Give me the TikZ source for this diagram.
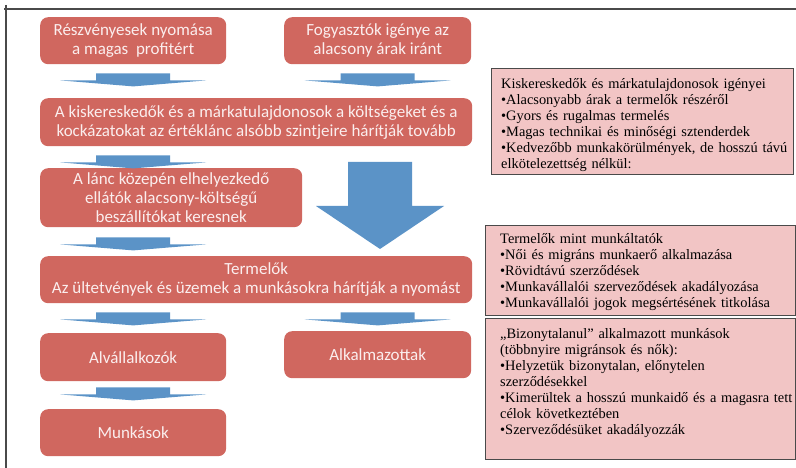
\documentclass[tikz,border=0pt]{standalone}
\usepackage{fontspec}
\setmainfont{Liberation Serif}
\setsansfont{Carlito}
\definecolor{redfill}{HTML}{D0675F}
\definecolor{redtext}{HTML}{FBEEEE}
\definecolor{arrowblue}{HTML}{5B93C7}
\definecolor{pinkfill}{HTML}{F2C5C5}
\definecolor{frameg}{HTML}{4A4A4A}
\tikzset{
  redbox/.style={fill=redfill, rounded corners=8pt, anchor=north west, inner sep=2pt,
    align=center, text=redtext, font=\sffamily\fontsize{17}{19}\selectfont},
  pinkbox/.style={fill=pinkfill, draw=frameg, line width=0.9pt, anchor=north west, inner sep=0pt},
  pinktext/.style={anchor=north west, inner sep=0pt, align=left, text=black,
    text width=295pt, font=\rmfamily\fontsize{14.4}{16}\selectfont},
  flatarr/.pic={\fill[arrowblue] (-37,0) -- (37,0) -- (37,7) -- (73,7) -- (0,13) -- (-73,7) -- (-37,7) -- cycle;}
}
\begin{document}
\begin{tikzpicture}[x=1pt,y=-1pt]
\useasboundingbox (0,0) rectangle (796,468);
\draw[frameg, line width=1.1pt] (4,9) -- (796,9);
\draw[frameg, line width=1.1pt] (6,5) -- (6,468);

\node[redbox, minimum width=186pt, minimum height=47pt] (b1) at (40,17) {Részvényesek nyomása\\a magas\ \ profitért};
\node[redbox, minimum width=187pt, minimum height=47pt] (b2) at (284,17) {Fogyasztók igénye az\\alacsony árak iránt};
\node[redbox, minimum width=432pt, minimum height=48pt] (b3) at (40,98) {A kiskereskedők és a márkatulajdonosok a költségeket és a\\kockázatokat az értéklánc alsóbb szintjeire hárítják tovább};
\node[redbox, minimum width=262pt, minimum height=59pt] (b4) at (40,168) {A lánc közepén elhelyezkedő\\ellátók alacsony-költségű\\beszállítókat keresnek};
\node[redbox, minimum width=432pt, minimum height=47pt] (b5) at (40,256) {Termelők\\Az ültetvények és üzemek a munkásokra hárítják a nyomást};
\node[redbox, minimum width=186pt, minimum height=48pt] (b6) at (40,333) {Alvállalkozók};
\node[redbox, minimum width=187pt, minimum height=47pt] (b7) at (284,331) {Alkalmazottak};
\node[redbox, minimum width=186pt, minimum height=47pt] (b8) at (40,409) {Munkások};

\pic at ([yshift=-9pt]b1.south) {flatarr};
\pic at ([yshift=-9pt]b2.south) {flatarr};
\pic at ([yshift=-9pt]b1.south |- b3.south) {flatarr};
\pic at ([yshift=-10pt]b1.south |- b4.south) {flatarr};
\pic at ([yshift=-9pt]b6.north |- b5.south) {flatarr};
\pic at ([yshift=-9pt]b7.north |- b5.south) {flatarr};
\pic at ([yshift=-6pt]b6.south) {flatarr};

\coordinate (bigtop) at (380,162);
\fill[arrowblue] (348,162) -- (412,162) -- (412,206) -- (444,206) -- (380,249) -- (316,206) -- (348,206) -- cycle;

\node[pinkbox, minimum width=302pt, minimum height=106pt] (pa) at (491,68) {};
\node[pinktext] (pat) at ([xshift=10pt,yshift=-10pt]pa.north west) {Kiskereskedők és márkatulajdonosok igényei\\
•Alacsonyabb árak a termelők részéről\\
•Gyors és rugalmas termelés\\
•Magas technikai és minőségi sztenderdek\\
•Kedvezőbb munkakörülmények, de hosszú távú\\
elkötelezettség nélkül:};
\node[pinkbox, minimum width=310pt, minimum height=90pt] (pb) at (485,225) {};
\node[pinktext] (pbt) at ([xshift=15pt,yshift=-8pt]pb.north west) {Termelők mint munkáltatók\\
•Női és migráns munkaerő alkalmazása\\
•Rövidtávú szerződések\\
•Munkavállalói szerveződések akadályozása\\
•Munkavállalói jogok megsértésének titkolása};
\node[pinkbox, minimum width=310pt, minimum height=141pt] (pc) at (485,318) {};
\node[pinktext] (pct) at ([xshift=15pt,yshift=-10pt]pc.north west) {„Bizonytalanul” alkalmazott munkások\\
(többnyire migránsok és nők):\\
•Helyzetük bizonytalan, előnytelen\\
szerződésekkel\\
•Kimerültek a hosszú munkaidő és a magasra tett\\
célok következtében\\
•Szerveződésüket akadályozzák};
\end{tikzpicture}
\end{document}
